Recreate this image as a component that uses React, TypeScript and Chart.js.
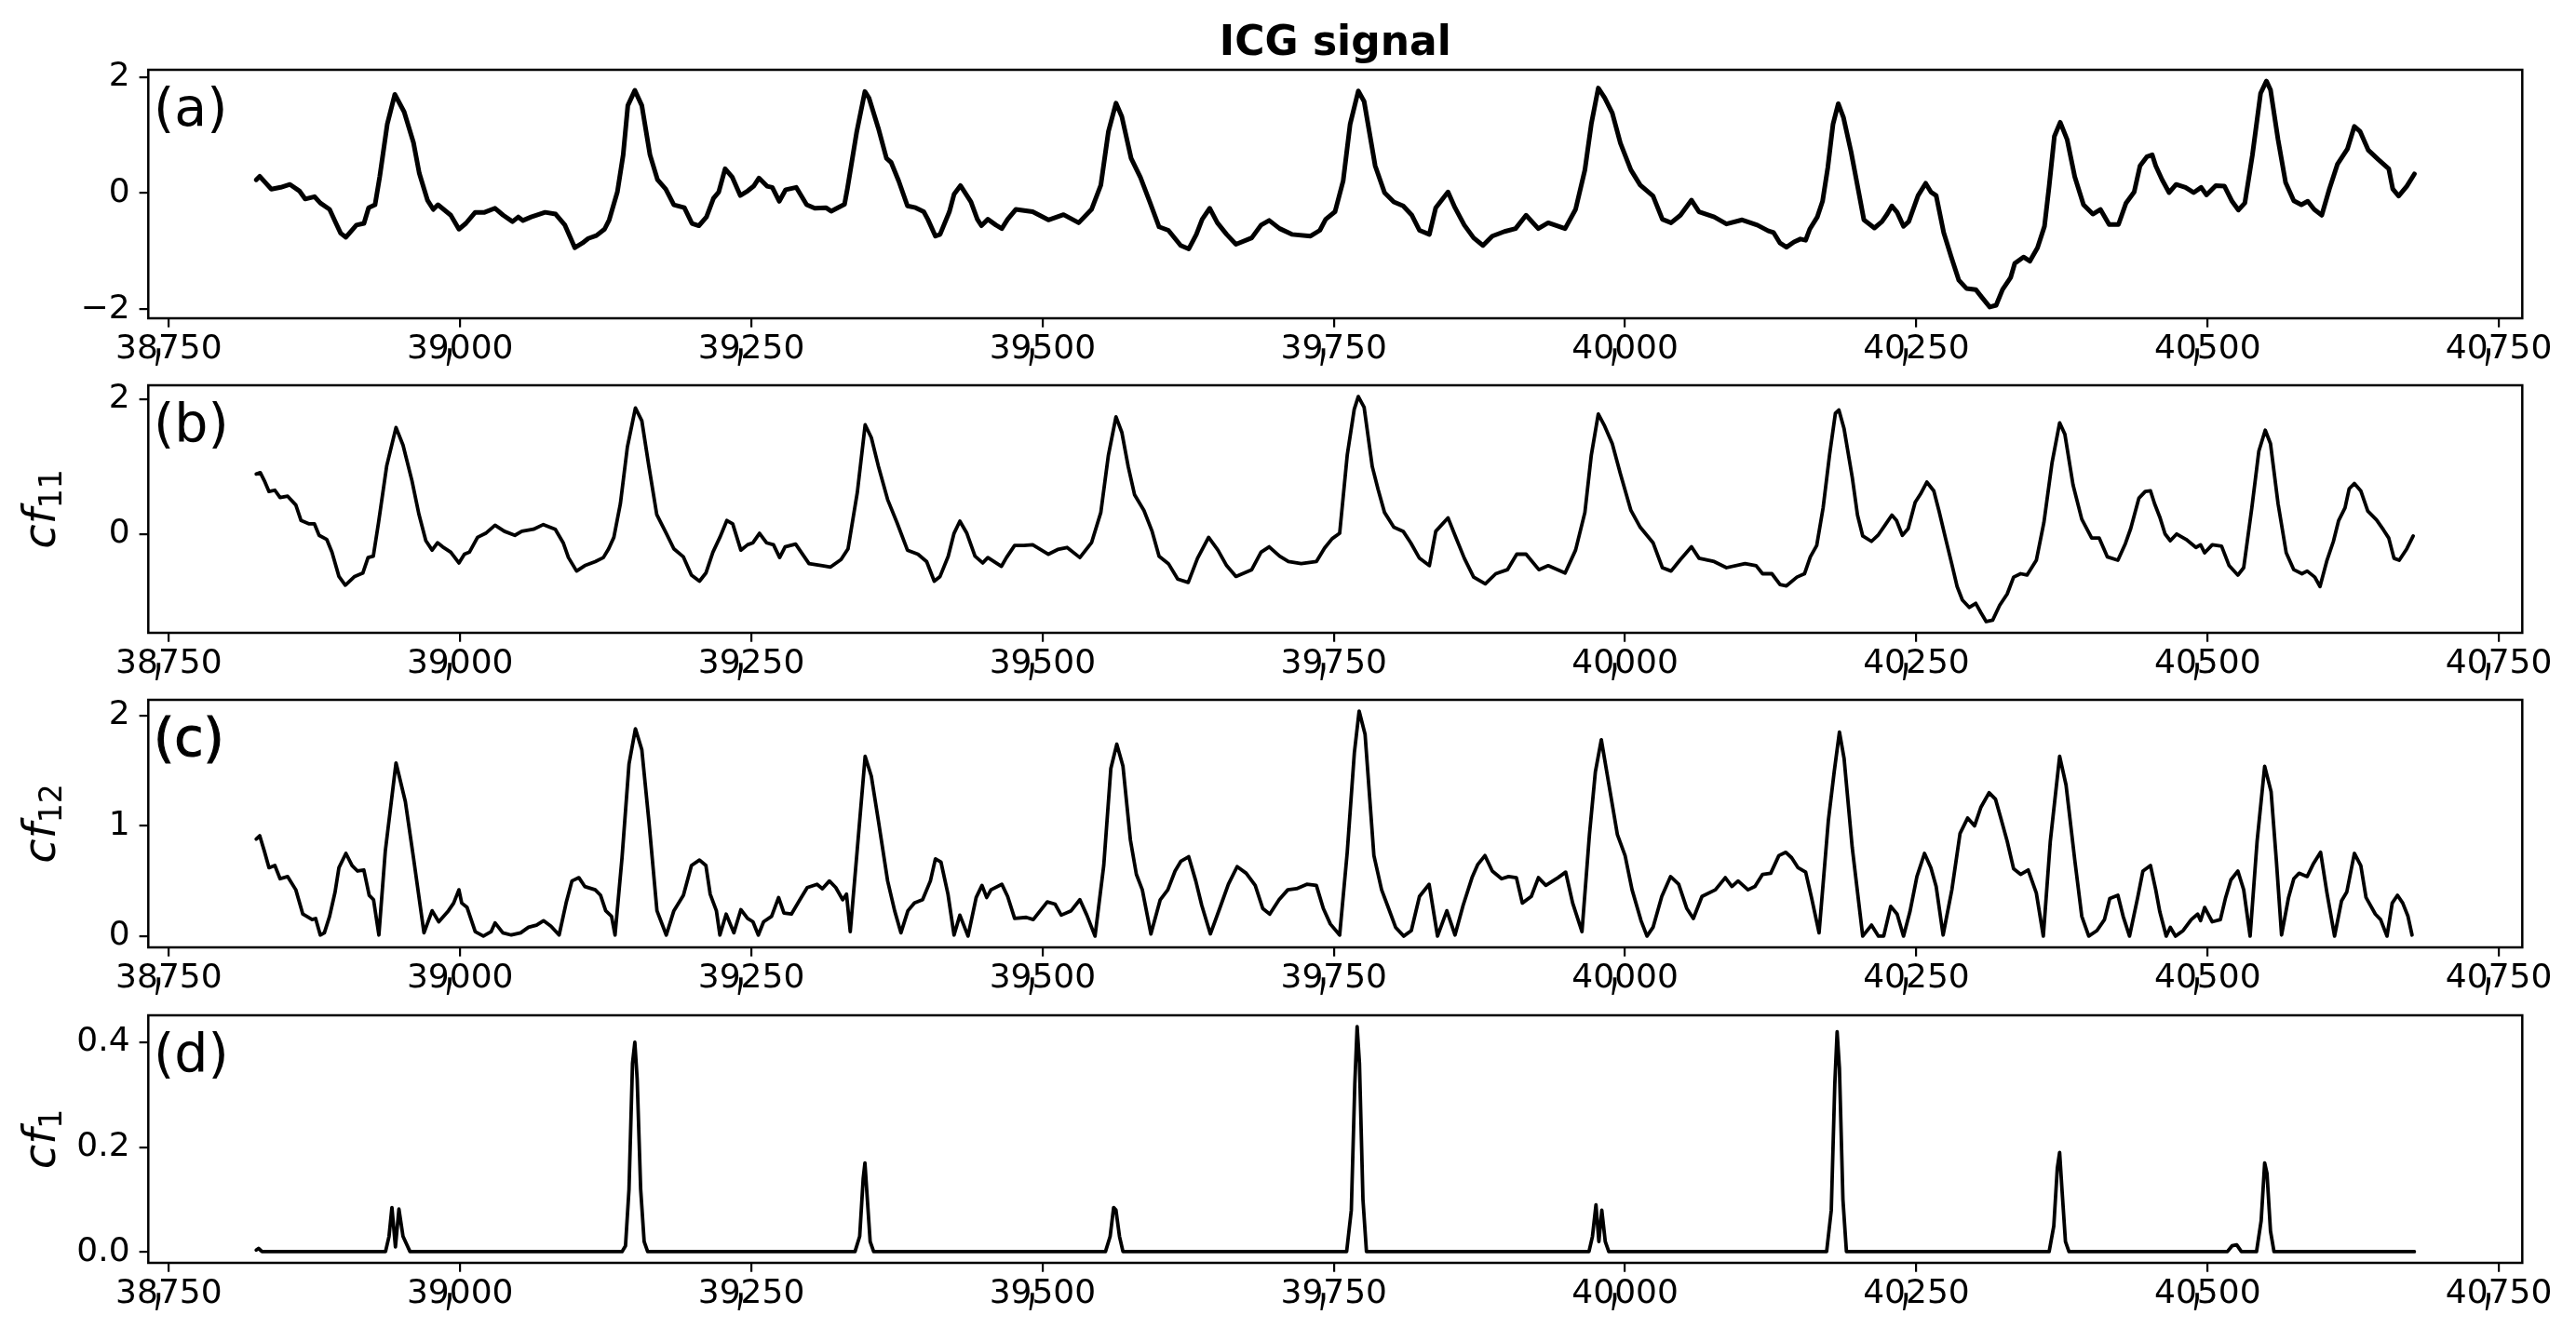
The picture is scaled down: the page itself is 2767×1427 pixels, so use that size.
import React, { useEffect, useRef } from "react";
import { Chart, registerables } from "chart.js";
Chart.register(...registerables);

// ---------------- data ----------------
const TITLE = "ICG signal";
const PANEL_LABELS = ["(a)", "(b)", "(c)", "(d)"];
const Y_LABEL_BASE = "cf";
const Y_LABEL_SUBS = [null, "11", "12", "1"];
const X_TICKS = [38750, 39000, 39250, 39500, 39750, 40000, 40250, 40500, 40750];
const X_TICK_LABELS = ["38,750", "39,000", "39,250", "39,500", "39,750", "40,000", "40,250", "40,500", "40,750"];
const Y_TICKS_A = [-2, 0, 2];
const Y_TICKS_B = [0, 2];
const Y_TICKS_C = [0, 1, 2];
const Y_TICKS_D = [0, 0.2, 0.4];

const ICG = [
  [38825,0.23],[38828,0.29],[38833,0.18],[38838,0.07],[38846,0.10],[38854,0.15],[38862,0.04],[38867,-0.10],[38875,-0.06],[38880,-0.17],
  [38888,-0.28],[38893.5,-0.52],[38897.5,-0.69],[38902,-0.76],[38911,-0.55],[38917.5,-0.52],[38921.5,-0.25],[38927,-0.20],[38931,0.28],[38937.5,1.19],
  [38944,1.70],[38952,1.40],[38960,0.87],[38965,0.34],[38972,-0.12],[38977,-0.28],[38981,-0.20],[38992,-0.38],[38999,-0.62],[39005,-0.52],
  [39013,-0.33],[39021,-0.33],[39030,-0.26],[39037,-0.38],[39045,-0.49],[39050,-0.41],[39054,-0.47],[39061,-0.41],[39073,-0.33],[39082,-0.36],
  [39090,-0.55],[39098.5,-0.94],[39105,-0.86],[39110,-0.78],[39117,-0.73],[39124,-0.62],[39128,-0.46],[39135,0.02],[39140,0.66],[39144,1.51],
  [39150,1.77],[39156,1.51],[39163,0.66],[39169.5,0.23],[39176.5,0.07],[39183.5,-0.20],[39192.5,-0.25],[39199,-0.52],[39205,-0.56],[39211.5,-0.41],
  [39217.5,-0.09],[39222,0.02],[39227.5,0.42],[39233.5,0.28],[39240.5,-0.04],[39247,0.04],[39252,0.12],[39256.5,0.26],[39263.5,0.12],[39268,0.10],
  [39274,-0.14],[39279.5,0.06],[39288.5,0.10],[39297.5,-0.20],[39304.5,-0.26],[39314,-0.25],[39318.5,-0.31],[39330,-0.19],[39332.5,0.08],[39340.5,1.06],
  [39347.5,1.75],[39351,1.64],[39359,1.12],[39366,0.60],[39370,0.53],[39376.5,0.21],[39384,-0.22],[39391,-0.25],[39398,-0.32],[39401.5,-0.45],
  [39408,-0.74],[39412,-0.71],[39420,-0.32],[39424,-0.02],[39429.5,0.13],[39438.5,-0.15],[39444,-0.45],[39447.5,-0.56],[39453,-0.45],[39460,-0.55],
  [39465,-0.61],[39470,-0.45],[39477,-0.28],[39491.5,-0.32],[39505,-0.46],[39518,-0.37],[39531,-0.51],[39542,-0.28],[39550,0.14],[39556.5,1.06],
  [39563,1.55],[39568,1.32],[39576,0.60],[39584,0.27],[39592,-0.15],[39600,-0.58],[39608,-0.64],[39618.5,-0.90],[39625.5,-0.96],[39632,-0.71],
  [39637,-0.45],[39643.5,-0.26],[39650,-0.51],[39658,-0.71],[39666,-0.88],[39679.5,-0.77],[39687.5,-0.55],[39694.5,-0.47],[39703.5,-0.61],[39714,-0.71],
  [39730,-0.74],[39738,-0.64],[39743,-0.45],[39751,-0.32],[39758,0.21],[39764,1.19],[39771,1.76],[39776,1.58],[39785.5,0.47],[39793.5,0.01],
  [39801.5,-0.15],[39809.5,-0.22],[39817,-0.38],[39823.5,-0.64],[39832,-0.71],[39837.5,-0.25],[39848,0.02],[39854,-0.25],[39862,-0.55],[39870,-0.77],
  [39878,-0.90],[39886,-0.74],[39896.5,-0.66],[39906,-0.61],[39915,-0.38],[39925.5,-0.61],[39934,-0.51],[39948.5,-0.61],[39957.5,-0.28],[39965.5,0.40],
  [39971,1.19],[39977,1.81],[39982.5,1.64],[39989,1.38],[39996,0.86],[40005,0.40],[40013,0.14],[40024,-0.05],[40032,-0.45],[40039.5,-0.51],
  [40047.5,-0.38],[40057,-0.12],[40063.5,-0.32],[40076.5,-0.41],[40087,-0.53],[40100.5,-0.46],[40113.5,-0.55],[40123,-0.65],[40127.5,-0.68],[40133,-0.86],
  [40138.5,-0.93],[40145,-0.84],[40150.5,-0.79],[40155,-0.81],[40158.5,-0.62],[40165,-0.41],[40169.5,-0.14],[40174,0.44],[40178.5,1.19],[40183,1.54],
  [40187.5,1.30],[40194,0.71],[40200.5,0.02],[40205,-0.46],[40214,-0.60],[40220.5,-0.49],[40225,-0.36],[40229,-0.22],[40233.5,-0.33],[40239,-0.57],
  [40243.5,-0.49],[40251.5,-0.04],[40258,0.17],[40262.5,0.02],[40267,-0.04],[40273.5,-0.68],[40280,-1.10],[40286.5,-1.50],[40293,-1.64],[40301,-1.66],
  [40306.5,-1.80],[40313,-1.96],[40318.5,-1.93],[40324,-1.66],[40331,-1.45],[40334.5,-1.21],[40342,-1.10],[40347.5,-1.17],[40354,-0.94],[40360,-0.57],
  [40364,0.12],[40368.5,0.98],[40373.5,1.22],[40379.5,0.92],[40386,0.28],[40393.5,-0.20],[40401.5,-0.36],[40408,-0.28],[40415.5,-0.54],[40423.5,-0.54],
  [40430,-0.17],[40437,0.02],[40442,0.47],[40448,0.63],[40452.5,0.66],[40455.5,0.47],[40461,0.23],[40467,0.01],[40473,0.15],[40481,0.10],
  [40488,0.01],[40494.5,0.10],[40499,-0.03],[40507,0.13],[40514.5,0.12],[40521,-0.14],[40526.5,-0.29],[40532,-0.17],[40538.5,0.66],[40545.5,1.72],
  [40550.5,1.93],[40554,1.78],[40560.5,0.92],[40567,0.18],[40574,-0.13],[40580.5,-0.20],[40586,-0.14],[40591.5,-0.28],[40598,-0.38],[40604.5,0.07],
  [40611.5,0.50],[40620,0.76],[40626,1.15],[40631,1.06],[40638,0.74],[40646.5,0.58],[40655.5,0.42],[40659,0.07],[40664,-0.05],[40671,0.12],[40677.5,0.33],
];

const CF11 = [
  [38825,0.89],[38828.5,0.91],[38832,0.79],[38836,0.63],[38841,0.65],[38845.5,0.54],[38852,0.56],[38859,0.43],[38863.5,0.20],[38870.5,0.15],
  [38875,0.15],[38879,-0.02],[38885.5,-0.08],[38890,-0.27],[38896,-0.63],[38901.5,-0.76],[38909.5,-0.63],[38916.5,-0.58],[38921,-0.35],[38925.5,-0.33],
  [38930,0.17],[38937,1.01],[38945,1.58],[38951,1.32],[38958.7,0.79],[38964.7,0.29],[38970.6,-0.10],[38976,-0.24],[38980.7,-0.13],[38985,-0.19],
  [38992,-0.27],[38999,-0.43],[39003.7,-0.30],[39008,-0.27],[39015,-0.05],[39022,0.01],[39030,0.13],[39038,0.04],[39047,-0.02],[39053,0.04],
  [39063,0.07],[39071.5,0.14],[39081.7,0.07],[39088.5,-0.13],[39093,-0.35],[39100,-0.55],[39107,-0.47],[39116,-0.41],[39123,-0.35],[39127.5,-0.22],
  [39132,-0.05],[39137.6,0.45],[39143.6,1.29],[39150.5,1.87],[39156,1.68],[39162,1.01],[39168.8,0.29],[39177,0.01],[39183.5,-0.22],[39191.7,-0.34],
  [39198.6,-0.61],[39205.5,-0.70],[39211,-0.58],[39217,-0.27],[39223,-0.05],[39229,0.20],[39234,0.15],[39241,-0.24],[39246.8,-0.16],[39251.4,-0.13],
  [39257,0.01],[39263,-0.13],[39269,-0.16],[39274.3,-0.35],[39279,-0.19],[39288,-0.15],[39299.5,-0.44],[39311,-0.47],[39318,-0.49],[39327,-0.38],
  [39333,-0.22],[39341,0.62],[39347.7,1.62],[39353,1.43],[39359,1.01],[39367,0.51],[39375,0.17],[39384,-0.24],[39393,-0.30],[39400.5,-0.41],
  [39407,-0.70],[39412,-0.63],[39419,-0.33],[39424,0.01],[39429,0.19],[39435,0.01],[39442,-0.33],[39448.6,-0.43],[39453,-0.35],[39464.7,-0.48],
  [39469,-0.35],[39476,-0.17],[39484,-0.17],[39491.5,-0.16],[39505,-0.30],[39513,-0.23],[39521,-0.20],[39532,-0.35],[39542,-0.13],[39550,0.32],
  [39556.5,1.17],[39563,1.74],[39568,1.51],[39573.5,1.00],[39579,0.58],[39587,0.35],[39594,0.04],[39600,-0.33],[39608,-0.44],[39616,-0.67],
  [39625,-0.72],[39633,-0.36],[39642.5,-0.05],[39650.5,-0.24],[39658,-0.47],[39666,-0.63],[39679.5,-0.53],[39687.5,-0.27],[39694.5,-0.19],[39703.5,-0.33],
  [39711,-0.41],[39722,-0.44],[39735,-0.41],[39742,-0.21],[39748.5,-0.07],[39755,0.01],[39761.5,1.17],[39767.5,1.85],[39771,2.04],[39776,1.88],
  [39783,1.00],[39788,0.66],[39793.5,0.32],[39801.5,0.10],[39809.5,0.04],[39816,-0.13],[39823.5,-0.36],[39832,-0.47],[39837.5,0.04],[39848,0.24],
  [39854,-0.02],[39862,-0.36],[39870,-0.64],[39880,-0.74],[39889,-0.59],[39899,-0.53],[39907,-0.30],[39915,-0.30],[39926,-0.53],[39934,-0.47],
  [39948.5,-0.58],[39957.5,-0.24],[39965.5,0.32],[39971,1.17],[39977,1.78],[39982.5,1.60],[39989,1.34],[39996,0.89],[40005,0.35],[40013,0.10],
  [40024,-0.13],[40032,-0.50],[40039.5,-0.55],[40047.5,-0.38],[40057,-0.19],[40063.5,-0.36],[40076.5,-0.41],[40087,-0.50],[40103,-0.44],[40112.5,-0.47],
  [40118,-0.59],[40126,-0.59],[40133,-0.75],[40138.5,-0.77],[40147.5,-0.64],[40154,-0.59],[40159,-0.34],[40164.5,-0.17],[40170,0.39],[40175.5,1.17],
  [40180.5,1.79],[40183.5,1.84],[40188,1.56],[40195,0.84],[40199.5,0.28],[40204,-0.03],[40211.5,-0.11],[40217.5,-0.01],[40223.5,0.14],[40229,0.28],
  [40233,0.20],[40238,-0.02],[40243,0.08],[40249,0.47],[40253.5,0.59],[40259,0.77],[40265,0.64],[40269.5,0.34],[40275,-0.06],[40280.5,-0.45],
  [40285,-0.78],[40289.5,-0.98],[40295.5,-1.09],[40301,-1.03],[40305.5,-1.17],[40310,-1.30],[40315.5,-1.28],[40321.5,-1.06],[40328,-0.89],[40333.5,-0.64],
  [40339.5,-0.59],[40345,-0.61],[40353,-0.39],[40359.5,0.17],[40366.5,1.06],[40373,1.65],[40377.5,1.48],[40384.5,0.73],[40392,0.22],[40400.5,-0.06],
  [40407,-0.06],[40414,-0.34],[40423,-0.39],[40429.5,-0.14],[40434,0.08],[40441,0.53],[40446.5,0.63],[40451,0.64],[40454.5,0.45],[40459,0.25],
  [40463.5,0.00],[40468,-0.10],[40473.5,0.00],[40481.5,-0.08],[40490,-0.20],[40494,-0.16],[40497.5,-0.28],[40504,-0.16],[40512,-0.18],[40518.5,-0.47],
  [40526,-0.61],[40531,-0.50],[40538,0.39],[40544,1.23],[40549.5,1.54],[40554,1.34],[40560.5,0.45],[40567.5,-0.28],[40574,-0.53],[40581,-0.59],
  [40585.5,-0.55],[40592,-0.64],[40596.5,-0.78],[40602.5,-0.39],[40608,-0.11],[40612.5,0.20],[40618,0.39],[40621.5,0.67],[40626,0.75],[40631.5,0.64],
  [40637.5,0.34],[40645,0.21],[40651,0.06],[40655.5,-0.06],[40660,-0.36],[40664.5,-0.39],[40671,-0.22],[40676.5,-0.03],
];

const CF12 = [
  [38825,0.88],[38828,0.91],[38832,0.77],[38836,0.62],[38841,0.64],[38845.5,0.52],[38852,0.54],[38859,0.42],[38865,0.20],[38873,0.15],
  [38876,0.16],[38880,0.01],[38883.5,0.03],[38888,0.18],[38892.7,0.40],[38896,0.62],[38902,0.75],[38907.3,0.64],[38912,0.59],[38917.4,0.60],
  [38922,0.37],[38925.7,0.33],[38930.3,0.01],[38935.8,0.77],[38945,1.57],[38953,1.22],[38960,0.71],[38969,0.03],[38976,0.23],[38981.7,0.13],
  [38990,0.23],[38994.5,0.30],[38999,0.42],[39001.4,0.30],[39006,0.26],[39013,0.04],[39020,0.00],[39026.6,0.04],[39030,0.12],[39036.7,0.03],
  [39044,0.01],[39052,0.03],[39058.7,0.08],[39065.6,0.10],[39071.6,0.14],[39078,0.09],[39085,0.01],[39091,0.30],[39096,0.50],[39102,0.53],
  [39107,0.45],[39116,0.42],[39120.6,0.37],[39125,0.23],[39130,0.18],[39133,0.01],[39139,0.71],[39145,1.56],[39150.5,1.88],[39156,1.69],
  [39162,1.05],[39169,0.23],[39177,0.01],[39183.5,0.23],[39191.7,0.37],[39198.6,0.64],[39205.5,0.69],[39211,0.64],[39214.7,0.38],[39220,0.23],
  [39223,0.01],[39228.4,0.20],[39235,0.03],[39241,0.24],[39246.8,0.16],[39251.4,0.13],[39256,0.01],[39260.5,0.13],[39267.4,0.18],[39273.4,0.35],
  [39278,0.21],[39284.4,0.20],[39291.7,0.33],[39298,0.44],[39306.4,0.47],[39311,0.43],[39317,0.50],[39322.5,0.44],[39328.4,0.33],[39331.7,0.38],
  [39334.9,0.04],[39340.8,0.77],[39347.7,1.63],[39353,1.45],[39359,1.05],[39367,0.50],[39373,0.23],[39378.4,0.03],[39384.4,0.23],[39390,0.30],
  [39397,0.33],[39403.7,0.50],[39408,0.70],[39412.8,0.67],[39418.8,0.38],[39424,0.01],[39429,0.19],[39436,0.00],[39443,0.35],[39448,0.46],
  [39452,0.35],[39455.7,0.42],[39465,0.47],[39470,0.36],[39476,0.16],[39486,0.17],[39492,0.15],[39504,0.31],[39510.7,0.29],[39516,0.19],
  [39524.5,0.23],[39532,0.33],[39538,0.19],[39545,0.00],[39552.5,0.64],[39558.6,1.52],[39563.7,1.74],[39569,1.54],[39575.4,0.87],[39580.5,0.56],
  [39585.6,0.42],[39593,0.02],[39601,0.33],[39607.5,0.42],[39613.7,0.59],[39618.8,0.68],[39625.4,0.72],[39631.5,0.50],[39636.6,0.28],[39644,0.02],
  [39652,0.25],[39659.5,0.47],[39667,0.63],[39674.8,0.57],[39682.5,0.46],[39689,0.25],[39695,0.20],[39703,0.33],[39710.5,0.42],[39718,0.43],
  [39726.8,0.47],[39735,0.46],[39741,0.25],[39747,0.11],[39755,0.01],[39761.5,0.76],[39767.6,1.66],[39771.7,2.04],[39776.8,1.83],[39784.4,0.73],
  [39791,0.42],[39796,0.28],[39803,0.08],[39810,0.00],[39816.5,0.05],[39823.5,0.36],[39831.8,0.47],[39839,0.00],[39847,0.23],[39854,0.01],
  [39861,0.28],[39868.6,0.53],[39873.6,0.65],[39879.7,0.73],[39886,0.59],[39894,0.52],[39900,0.54],[39906.7,0.53],[39911.8,0.30],[39919.5,0.36],
  [39925.6,0.53],[39932,0.46],[39942.4,0.53],[39949,0.58],[39955,0.30],[39963,0.04],[39969.4,0.92],[39974.5,1.49],[39979.6,1.78],[39985.7,1.40],
  [39993.4,0.92],[40000,0.73],[40006,0.42],[40013.7,0.14],[40018.8,0.00],[40024,0.08],[40031.5,0.36],[40039,0.54],[40046,0.47],[40053,0.25],
  [40058.6,0.16],[40066,0.36],[40077.5,0.42],[40086,0.53],[40091.7,0.45],[40097,0.50],[40105.5,0.42],[40111.5,0.45],[40118,0.56],[40125,0.57],
  [40132,0.73],[40138,0.76],[40143,0.71],[40148.5,0.62],[40155,0.58],[40160,0.35],[40166.5,0.03],[40174.5,1.05],[40179.5,1.49],[40184,1.85],
  [40188,1.61],[40195,0.80],[40204,0.00],[40211.5,0.10],[40217.5,0.00],[40222,0.00],[40228,0.27],[40233.5,0.20],[40239,0.00],[40244.5,0.22],
  [40250.5,0.54],[40257,0.75],[40262.5,0.62],[40267,0.45],[40273,0.01],[40280.5,0.42],[40287.5,0.93],[40294,1.07],[40300,1.00],[40305.5,1.17],
  [40312.5,1.30],[40318,1.24],[40322.5,1.07],[40328,0.86],[40333.5,0.61],[40339.5,0.56],[40346,0.60],[40353,0.39],[40359,0.00],[40365,0.86],
  [40373,1.63],[40378.5,1.37],[40386,0.69],[40392,0.18],[40398,0.00],[40405,0.05],[40411.5,0.15],[40416,0.34],[40423,0.37],[40427.5,0.18],
  [40433,0.00],[40440,0.35],[40444.5,0.59],[40451,0.64],[40455.5,0.42],[40459,0.22],[40464.5,0.00],[40468,0.08],[40472.5,0.00],[40479,0.05],
  [40486,0.15],[40491.5,0.20],[40494,0.14],[40497.5,0.26],[40504,0.13],[40511,0.15],[40515.5,0.35],[40520,0.51],[40526,0.59],[40531,0.42],
  [40536.5,0.00],[40542.5,0.86],[40549,1.54],[40554.5,1.31],[40559,0.69],[40563.5,0.01],[40569.5,0.35],[40574,0.52],[40578.5,0.57],[40585.5,0.54],
  [40591,0.66],[40597,0.76],[40602.5,0.39],[40609,0.00],[40615,0.32],[40619.5,0.40],[40626,0.75],[40631.5,0.64],[40636,0.35],[40644,0.20],
  [40648.5,0.15],[40654,0.00],[40658.5,0.30],[40663,0.37],[40667.5,0.30],[40672,0.18],[40675.5,0.01],
];

const CF1 = [
  [38825,0.004],[38827,0.007],[38830,0.001],[38936,0.001],[38939,0.03],[38941.5,0.085],[38944.5,0.01],[38947.5,0.082],[38951,0.03],[38957,0.001],
  [39139,0.001],[39142,0.012],[39145,0.12],[39148,0.36],[39150,0.40],[39152,0.33],[39155,0.12],[39158,0.02],[39161,0.001],
  [39339,0.001],[39343,0.03],[39346,0.14],[39347.5,0.17],[39349,0.12],[39352,0.02],[39355,0.001],
  [39554,0.001],[39558,0.03],[39561,0.085],[39563,0.08],[39566,0.03],[39569,0.001],
  [39761,0.001],[39765,0.08],[39768,0.32],[39770,0.43],[39772,0.36],[39775,0.10],[39778,0.001],
  [39969,0.001],[39972,0.03],[39975,0.09],[39977.5,0.02],[39980,0.08],[39983,0.02],[39986,0.001],
  [40173,0.001],[40177,0.08],[40180,0.32],[40182,0.42],[40184,0.35],[40187,0.10],[40190,0.001],
  [40364,0.001],[40368,0.05],[40371,0.16],[40373,0.19],[40375,0.12],[40378,0.02],[40381,0.001],
  [40517,0.001],[40521,0.012],[40525,0.014],[40529,0.001],
  [40542,0.001],[40546,0.06],[40549,0.17],[40551,0.15],[40554,0.04],[40557,0.001],[40677.5,0.001],
];

const SERIES = [ICG, CF11, CF12, CF1];
const Y_TICKS = [Y_TICKS_A, Y_TICKS_B, Y_TICKS_C, Y_TICKS_D];

// ---------------- layout / style ----------------
const W = 2767;
const H = 1427;
const AX_LEFT = 159.3;
const AX_RIGHT = 2709.3;
const PANEL_TOP = [75, 414, 752.3, 1091];
const PANEL_BOTTOM = [341.7, 680, 1018.3, 1357];
const PAD_TOP = [75, 45, 45, 45];
const X_AXIS_H = 80;
const LINE_W = [5, 3.8, 3.8, 3.8];
const TICK_DECIMALS = [0, 0, 0, 1];
const FONT = '"DejaVu Sans", "Liberation Sans", sans-serif';

function dataRange(vals: number[]) {
  const lo = Math.min(...vals);
  const hi = Math.max(...vals);
  const m = (hi - lo) * 0.05;
  return [lo - m, hi + m];
}

const allX = SERIES.flatMap((s) => s.map((p) => p[0]));
const [X_MIN, X_MAX] = dataRange(allX);

function fmtY(v: number, dec: number) {
  const s = Math.abs(v).toFixed(dec);
  return v < 0 ? "\u2212" + s : s;
}

function Panel({ idx }: { idx: number }) {
  const ref = useRef<HTMLCanvasElement | null>(null);
  const top = PANEL_TOP[idx];
  const bottom = PANEL_BOTTOM[idx];
  const padTop = PAD_TOP[idx];
  const canvasTop = top - padTop;
  const canvasH = Math.ceil(bottom - top + padTop + X_AXIS_H);

  useEffect(() => {
    const canvas = ref.current;
    if (!canvas) return;
    const pts = SERIES[idx];
    const [yMin, yMax] = dataRange(pts.map((p) => p[1]));
    const yTicks = Y_TICKS[idx];
    const dec = TICK_DECIMALS[idx];

    const decor = {
      id: "decor" + idx,
      afterDraw(chart: any) {
        const ctx = chart.ctx;
        const ca = chart.chartArea;
        const xs = chart.scales.x;
        ctx.save();
        // frame
        ctx.strokeStyle = "#000";
        ctx.lineWidth = 2.5;
        ctx.strokeRect(ca.left, ca.top, ca.right - ca.left, ca.bottom - ca.top);
        // x tick labels (comma drawn with zero advance, like the reference)
        ctx.fillStyle = "#000";
        ctx.font = "36px " + FONT;
        ctx.textBaseline = "alphabetic";
        X_TICKS.forEach((v, i) => {
          const label = X_TICK_LABELS[i];
          const ci = label.indexOf(",");
          const head = ci >= 0 ? label.slice(0, ci) : label;
          const tail = ci >= 0 ? label.slice(ci + 1) : "";
          const hw = ctx.measureText(head).width;
          const tw = ctx.measureText(tail).width;
          const px = xs.getPixelForValue(v);
          const x0 = px - (hw + tw) / 2;
          const y0 = ca.bottom + 43.3;
          ctx.textAlign = "left";
          ctx.fillText(head, x0, y0);
          ctx.fillText(tail, x0 + hw, y0);
          if (ci >= 0) {
            ctx.save();
            ctx.translate(x0 + hw, y0 - 1);
            ctx.scale(1, 2.2);
            ctx.textAlign = "center";
            ctx.fillText(",", 0, 0);
            ctx.restore();
          }
        });
        // panel label
        ctx.textAlign = "left";
        ctx.font = "57px " + FONT;
        ctx.fillText(PANEL_LABELS[idx], ca.left + 5.7, ca.top + 60);
        if (idx === 2) {
          ctx.lineWidth = 1.2;
          ctx.strokeText(PANEL_LABELS[idx], ca.left + 5.7, ca.top + 60);
        }
        // y label
        const sub = Y_LABEL_SUBS[idx];
        if (sub) {
          const cy = (ca.top + ca.bottom) / 2;
          ctx.save();
          ctx.translate(59, cy);
          ctx.rotate(-Math.PI / 2);
          ctx.font = "italic 48px " + FONT;
          const w1 = ctx.measureText(Y_LABEL_BASE).width;
          ctx.font = "33px " + FONT;
          const w2 = ctx.measureText(sub).width;
          const start = -(w1 + w2) / 2;
          ctx.textAlign = "left";
          ctx.font = "italic 48px " + FONT;
          ctx.fillText(Y_LABEL_BASE, start, 0);
          ctx.font = "33px " + FONT;
          ctx.fillText(sub, start + w1, 7);
          ctx.restore();
        }
        // title
        if (idx === 0) {
          ctx.font = "bold 44px " + FONT;
          ctx.textAlign = "center";
          ctx.fillText(TITLE, (ca.left + ca.right) / 2, ca.top - 16);
        }
        ctx.restore();
      },
    };

    const chart = new Chart(canvas, {
      type: "line",
      data: {
        datasets: [
          {
            data: pts.map((p) => ({ x: p[0], y: p[1] })),
            borderColor: "#000",
            borderWidth: LINE_W[idx],
            pointRadius: 0,
            tension: 0,
            fill: false,
            borderJoinStyle: "round",
            borderCapStyle: "round",
          },
        ],
      },
      options: {
        animation: false,
        responsive: false,
        devicePixelRatio: 1,
        events: [],
        layout: { padding: { left: 0, right: W - AX_RIGHT, top: padTop, bottom: 0 } },
        plugins: { legend: { display: false }, tooltip: { enabled: false }, title: { display: false } },
        scales: {
          x: {
            type: "linear",
            min: X_MIN,
            max: X_MAX,
            afterBuildTicks: (s: any) => {
              s.ticks = X_TICKS.map((v) => ({ value: v }));
            },
            afterFit: (s: any) => {
              s.height = X_AXIS_H;
            },
            ticks: { display: false },
            grid: { drawOnChartArea: false, drawTicks: true, tickLength: 9.7, lineWidth: 2.2, color: "#000", tickColor: "#000" },
            border: { display: false },
          },
          y: {
            type: "linear",
            min: yMin,
            max: yMax,
            afterBuildTicks: (s: any) => {
              s.ticks = yTicks.map((v) => ({ value: v }));
            },
            afterFit: (s: any) => {
              s.width = AX_LEFT;
            },
            ticks: {
              autoSkip: false,
              padding: 10,
              color: "#000",
              font: { family: FONT, size: 36 },
              callback: (v: any) => fmtY(Number(v), dec),
            },
            grid: { drawOnChartArea: false, drawTicks: true, tickLength: 9.7, lineWidth: 2.2, color: "#000", tickColor: "#000" },
            border: { display: false },
          },
        },
      },
      plugins: [decor],
    } as any);
    return () => chart.destroy();
  }, [idx]);

  return (
    <canvas
      ref={ref}
      width={W}
      height={canvasH}
      style={{ position: "absolute", left: 0, top: canvasTop, width: W, height: canvasH }}
    />
  );
}

export default function App() {
  return (
    <div style={{ position: "absolute", left: 0, top: 0, width: W, height: H, background: "#fff", overflow: "hidden" }}>
      {[0, 1, 2, 3].map((i) => (
        <Panel key={i} idx={i} />
      ))}
    </div>
  );
}
